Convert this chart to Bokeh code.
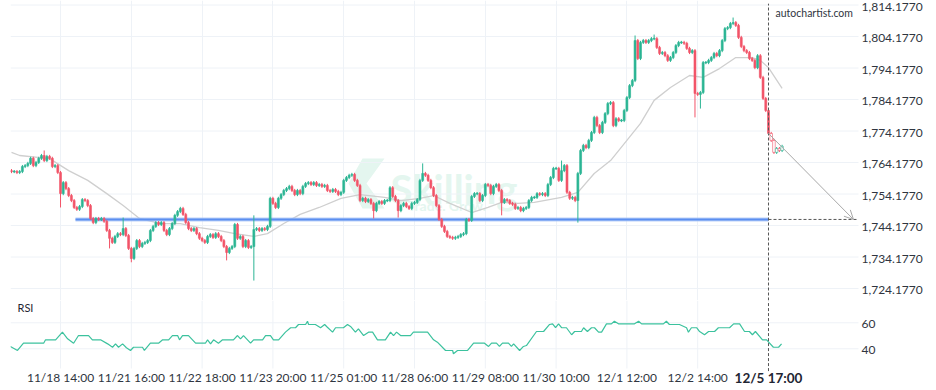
from bokeh.plotting import figure
from bokeh.layouts import column
from bokeh.models import (Range1d, FixedTicker, Label, Arrow, OpenHead,
                          ColumnDataSource, PolyAnnotation)
from bokeh.core.properties import value
from bokeh.embed import file_html
from bokeh.resources import INLINE

# ---------------- data ----------------
first_open = 1761.6
close = [
    1761.3, 1761.3, 1761.0, 1761.3, 1762.9, 1763.2, 1763.9, 1765.5, 1763.2, 1764.2,
    1765.5, 1766.4, 1764.8, 1766.1, 1765.5, 1762.9, 1763.2, 1761.0, 1754.3, 1757.8,
    1755.9, 1753.7, 1752.1, 1749.9, 1749.3, 1750.2, 1752.4, 1752.1, 1750.5, 1746.4,
    1745.1, 1746.4, 1746.1, 1746.4, 1745.5, 1742.6, 1740.1, 1738.8, 1740.7, 1741.6,
    1741.3, 1743.2, 1741.0, 1736.9, 1733.7, 1736.9, 1739.4, 1737.5, 1738.5, 1738.8,
    1739.4, 1742.6, 1743.9, 1745.1, 1744.5, 1745.1, 1742.6, 1741.3, 1743.2, 1744.8,
    1747.4, 1748.6, 1749.6, 1747.7, 1745.1, 1743.2, 1742.6, 1743.2, 1741.6, 1740.1,
    1739.4, 1738.8, 1740.7, 1741.3, 1740.4, 1741.6, 1740.7, 1739.4, 1737.5, 1735.6,
    1736.9, 1737.5, 1744.5, 1740.1, 1740.7, 1737.5, 1739.4, 1737.2, 1737.5, 1742.9,
    1743.2, 1742.6, 1743.2, 1742.9, 1743.9, 1752.8, 1751.2, 1749.9, 1752.8, 1754.0,
    1755.3, 1755.9, 1756.6, 1755.3, 1754.0, 1755.3, 1754.3, 1756.6, 1757.5, 1757.8,
    1757.2, 1757.8, 1756.9, 1757.2, 1756.6, 1756.9, 1755.3, 1755.0, 1755.6, 1755.0,
    1754.0, 1754.7, 1758.5, 1759.4, 1760.1, 1760.4, 1758.5, 1756.9, 1752.1, 1752.8,
    1751.8, 1752.4, 1751.2, 1748.9, 1751.2, 1751.8, 1751.2, 1752.1, 1752.1, 1756.2,
    1753.4, 1752.1, 1748.9, 1750.5, 1751.2, 1750.2, 1749.6, 1751.2, 1751.5, 1752.4,
    1758.5, 1760.7, 1760.1, 1758.5, 1756.2, 1753.7, 1750.5, 1746.1, 1743.9, 1742.3,
    1740.7, 1740.4, 1740.1, 1740.4, 1740.7, 1741.3, 1741.6, 1746.1, 1745.8, 1753.4,
    1754.3, 1754.3, 1752.1, 1753.7, 1757.2, 1756.9, 1754.3, 1756.6, 1757.2, 1755.3,
    1751.5, 1752.4, 1752.1, 1751.2, 1750.9, 1749.6, 1749.9, 1748.9, 1749.6, 1749.9,
    1752.1, 1753.1, 1753.1, 1754.3, 1754.0, 1754.3, 1753.7, 1757.2, 1759.4, 1762.3,
    1762.3, 1758.5, 1761.6, 1763.2, 1754.7, 1752.8, 1753.1, 1752.1, 1760.7, 1768.0,
    1769.6, 1768.9, 1771.2, 1773.7, 1778.5, 1775.9, 1773.7, 1776.9, 1779.7, 1782.9,
    1783.2, 1775.9, 1778.1, 1777.5, 1777.5, 1780.7, 1784.8, 1788.6, 1790.2, 1802.9,
    1797.2, 1802.3, 1802.9, 1802.3, 1802.9, 1803.5, 1803.5, 1800.7, 1798.8, 1799.1,
    1798.1, 1796.6, 1797.5, 1799.1, 1801.3, 1802.3, 1802.3, 1802.0, 1800.4, 1799.1,
    1799.7, 1786.1, 1785.8, 1786.4, 1795.9, 1795.9, 1796.6, 1797.5, 1798.8, 1798.1,
    1799.7, 1802.9, 1806.7, 1807.0, 1808.3, 1808.6, 1807.7, 1803.9, 1801.0, 1799.7,
    1799.1, 1797.2, 1796.6, 1794.3, 1798.1, 1791.2, 1784.5, 1780.7, 1773.4, 1771.2,
    1767.4, 1768.6, 1768.0, 1769.3,
]
# notable wick extremes (bar index -> price)
high_wicks = {12: 1768.0, 41: 1746.7, 89: 1747.4, 151: 1763.9, 202: 1764.8,
              229: 1804.5, 236: 1804.8, 265: 1810.2}
low_wicks = {18: 1749.9, 36: 1736.9, 44: 1732.5, 79: 1733.1, 89: 1726.7,
             133: 1746.4, 142: 1746.7, 180: 1747.4, 208: 1745.1, 251: 1778.5,
             253: 1781.3}
wick_pad = 0.5

ma_idx = [0, 3, 14, 21, 28, 35, 41, 47, 55, 62, 69, 76, 82, 89, 94, 100, 106, 113,
          121, 128, 137, 143, 150, 155, 161, 169, 175, 180, 186, 192, 202, 208, 214,
          220, 226, 231, 236, 242, 249, 254, 260, 266, 272, 275, 278, 283]
ma_val = [1767.4, 1766.4, 1765.4, 1761.6, 1758.5, 1754.3, 1750.5, 1746.4, 1744.8,
          1744.8, 1743.5, 1742.6, 1741.6, 1740.7, 1741.6, 1744.8, 1747.7, 1749.9,
          1752.8, 1754.0, 1753.1, 1752.1, 1752.8, 1753.7, 1751.2, 1748.3, 1749.9,
          1751.5, 1751.2, 1751.5, 1753.1, 1754.7, 1760.7, 1764.8, 1771.2, 1776.6,
          1783.9, 1788.0, 1791.8, 1791.2, 1794.0, 1797.5, 1797.5, 1796.6, 1794.3,
          1787.7]

rsi_idx = [-0.4, 2.2, 4.4, 11.8, 12.5, 16.2, 18.7, 20.6, 22.8, 24.6, 28.3, 29.7, 32.7,
           35.3, 37.1, 38.2, 39.3, 40.8, 42.2, 43.7, 44.8, 48.1, 48.8, 51.0, 54.0, 55.5,
           57.7, 59.1, 61.0, 61.7, 62.8, 65.0, 67.6, 71.2, 72.0, 73.1, 74.2, 76.0, 77.5,
           81.5, 83.0, 84.1, 85.2, 87.8, 88.9, 92.2, 93.3, 95.1, 96.2, 98.1, 100.6,
           102.5, 104.3, 105.4, 108.0, 108.7, 109.1, 111.6, 113.5, 115.0, 116.0, 117.9,
           119.0, 121.9, 123.4, 124.5, 126.3, 127.4, 129.3, 131.1, 132.6, 134.4, 137.3,
           139.2, 140.3, 141.4, 142.9, 146.5, 147.6, 152.8, 155.0, 156.4, 159.4, 162.0,
           162.3, 163.8, 167.5, 169.7, 173.7, 175.2, 176.3, 178.1, 179.2, 180.3, 182.5,
           183.6, 184.4, 186.6, 188.0, 189.1, 192.8, 195.4, 197.6, 198.7, 199.8, 200.9,
           202.0, 203.8, 205.7, 206.8, 209.3, 210.1, 211.5, 213.0, 214.1, 215.6, 216.7,
           218.5, 220.3, 221.4, 222.9, 228.8, 230.3, 231.4, 239.4, 240.5, 241.6, 245.3,
           247.9, 248.6, 249.7, 251.6, 252.7, 254.5, 256.0, 258.2, 259.6, 263.7, 265.2,
           267.4, 269.2, 271.0, 272.1, 273.2, 275.8, 277.3, 279.8, 281.7, 282.8]
rsi_val = [41.7, 38.7, 44.3, 44.3, 46.9, 46.9, 52.8, 47.7, 44.3, 50.2, 50.2, 46.9, 46.9,
           43.8, 41.2, 43.8, 41.2, 43.8, 40.8, 38.7, 41.2, 41.2, 38.7, 44.3, 44.3, 46.9,
           46.9, 50.2, 50.2, 46.9, 50.2, 50.2, 44.3, 44.3, 46.9, 43.8, 46.9, 44.3, 46.9,
           46.9, 50.2, 47.7, 50.2, 44.3, 46.9, 46.9, 50.2, 50.2, 46.9, 46.9, 52.8,
           56.2, 56.2, 58.7, 58.7, 61.2, 58.7, 58.7, 56.2, 58.7, 56.6, 52.8,
           56.2, 56.2, 58.7, 57.2, 52.8, 55.4, 50.2, 52.8, 52.8, 46.9, 46.9,
           52.8, 50.2, 52.8, 50.2, 50.2, 52.8, 52.8, 46.9, 45.1, 38.7, 38.7,
           36.2, 38.7, 38.7, 44.3, 44.3, 41.8, 44.3, 44.3, 41.8, 44.3, 44.3,
           41.8, 43.8, 38.7, 41.8, 42.5, 53.3, 53.3, 58.7, 59.2, 56.2, 59.2,
           56.2, 56.2, 50.8, 53.3, 53.3, 56.2, 53.3, 56.2, 56.2, 52.8, 52.8,
           59.2, 59.2, 61.2, 59.2, 59.2, 61.2, 59.2, 59.2, 61.2, 58.7, 58.7,
           56.2, 52.8, 56.2, 56.2, 53.3, 50.8, 53.3, 53.3, 56.2, 56.2, 59.2,
           59.2, 53.3, 53.3, 50.8, 53.3, 46.9, 46.9, 41.2, 41.2, 43.8]

support_level = 1746.1
support_start = 23.5
now_idx = 278
target_idx = 309.2
target_level = 1746.1

price_ticks = [1724.177, 1734.177, 1744.177, 1754.177, 1764.177, 1774.177,
               1784.177, 1794.177, 1804.177, 1814.177]
price_labels = [f"{v:,.4f}" for v in price_ticks]
rsi_ticks = [40, 60]
rsi_labels = ["40", "60"]
time_idx = [18, 44, 70, 96, 122, 148, 174, 200, 226, 252, 278]
time_labels = ["11/18 14:00", "11/21 16:00", "11/22 18:00", "11/23 20:00",
               "11/25 01:00", "11/28 06:00", "11/29 08:00", "11/30 10:00",
               "12/1 12:00", "12/2 14:00", "12/5 17:00"]

# ---------------- styling ----------------
UP = "#2bb594"
DOWN = "#f25468"
GRID = "#eef2f7"
TXT = "#2f3540"
FONT = "Lato"
X0, X_PLOT_END, X_CANVAS_END = -0.37, 311.05, 339.7   # bar-index extents

N = len(close)
idx = list(range(N))
opens = [first_open] + close[:-1]
tops, bots, highs, lows, fills, lines, widths = [], [], [], [], [], [], []
for i in idx:
    o, c = opens[i], close[i]
    hi = high_wicks.get(i, max(o, c) + wick_pad)
    lo = low_wicks.get(i, min(o, c) - wick_pad)
    t, b = max(o, c), min(o, c)
    if t - b < 0.3:
        m = (t + b) / 2
        t, b = m + 0.15, m - 0.15
    col = UP if c >= o else DOWN
    tops.append(t); bots.append(b); highs.append(hi); lows.append(lo)
    lines.append(col)
    if i > now_idx:
        fills.append("white"); widths.append(0.95)
    else:
        fills.append(col); widths.append(0.72)

src = ColumnDataSource(dict(x=idx, top=tops, bottom=bots, high=highs, low=lows,
                            fill=fills, line=lines, w=widths))

xr = Range1d(X0, X_CANVAS_END)

# ---------------- price panel ----------------
pA = figure(width=936, height=300, x_range=xr, y_range=Range1d(1720.37, 1815.61),
            output_backend="svg", toolbar_location=None, x_axis_location=None,
            y_axis_location=None, min_border_left=10, min_border_right=0,
            min_border_top=0, min_border_bottom=0)
pA.outline_line_color = None
pA.xgrid.ticker = FixedTicker(ticks=time_idx[:-1])
pA.xgrid.grid_line_color = GRID
pA.ygrid.visible = False
pA.segment(x0=[X0] * len(price_ticks), y0=price_ticks,
           x1=[X_PLOT_END] * len(price_ticks), y1=price_ticks,
           line_color=GRID, line_width=1)
pA.text(x=[X_PLOT_END] * len(price_ticks), y=price_ticks, text=price_labels,
        x_offset=3, y_offset=1.5, text_align="left", text_baseline="middle",
        text_font=value(FONT), text_font_size="12px", text_color=TXT)

# watermark
wm_col = "#e4f6ef"
pA.add_layout(PolyAnnotation(xs=[352, 374, 356, 374, 352, 338],
                             ys=[142, 142, 117, 92, 92, 117],
                             xs_units="screen", ys_units="screen",
                             fill_color=wm_col, fill_alpha=1.0, line_color=None,
                             level="underlay"))
pA.add_layout(Label(x=380, y=112, x_units="screen", y_units="screen", text="Skilling",
                    text_font=FONT, text_font_style="bold", text_font_size="40px",
                    text_color=wm_col, text_baseline="alphabetic", level="underlay"))
pA.add_layout(Label(x=397, y=95, x_units="screen", y_units="screen", text="Trade. Grow.",
                    text_font=FONT, text_font_style="bold", text_font_size="14px",
                    text_color=wm_col, text_baseline="alphabetic", level="underlay"))

# moving average
pA.line(ma_idx, ma_val, line_color="#cfcfcf", line_width=1.3)

# support line
pA.segment(x0=[support_start], y0=[support_level], x1=[now_idx], y1=[support_level],
           line_color="#a9c4f7", line_width=4, line_alpha=0.8)
pA.segment(x0=[support_start], y0=[support_level], x1=[now_idx], y1=[support_level],
           line_color="#5b8ef0", line_width=2)

# candles
pA.segment(x0="x", y0="low", x1="x", y1="high", line_color="line", line_width=1, source=src)
pA.vbar(x="x", width="w", top="top", bottom="bottom", fill_color="fill",
        line_color="line", line_width=0.6, source=src)

# forecast
pA.segment(x0=[now_idx], y0=[target_level], x1=[X_PLOT_END], y1=[target_level],
           line_color="#555555", line_dash="3 2", line_width=1)
pA.add_layout(Arrow(end=OpenHead(size=9, line_color="#a8a8a8", line_width=1),
                    x_start=now_idx, y_start=close[now_idx],
                    x_end=target_idx, y_end=target_level,
                    line_color="#a8a8a8", line_width=1))
pA.segment(x0=[now_idx], y0=[1720.37], x1=[now_idx], y1=[1814.6],
           line_color="#555555", line_dash="3 2", line_width=1)
pA.add_layout(Label(x=765, y=288, x_units="screen", y_units="screen",
                    text="autochartist.com", text_font=FONT, text_font_size="10.5px",
                    text_color=TXT, text_baseline="middle"))

# ---------------- RSI panel ----------------
rsi_lo, rsi_hi = 7.92, 77.15
grid_bottom = 24.85     # where the vertical guides stop above the time labels
label_y = 17.9
pB = figure(width=936, height=90, x_range=xr, y_range=Range1d(rsi_lo, rsi_hi),
            output_backend="svg", toolbar_location=None, x_axis_location=None,
            y_axis_location=None, min_border_left=10, min_border_right=0,
            min_border_top=0, min_border_bottom=0)
pB.outline_line_color = None
pB.grid.visible = False
pB.segment(x0=[X0] * 2, y0=rsi_ticks, x1=[X_PLOT_END] * 2, y1=rsi_ticks,
           line_color=GRID, line_width=1)
pB.segment(x0=time_idx[:-1], y0=[grid_bottom] * 10, x1=time_idx[:-1], y1=[rsi_hi] * 10,
           line_color=GRID, line_width=1)
pB.text(x=[X_PLOT_END] * 2, y=rsi_ticks, text=rsi_labels, x_offset=3, y_offset=1,
        text_align="left", text_baseline="middle", text_font=value(FONT),
        text_font_size="12px", text_color=TXT)
pB.text(x=time_idx[:-1], y=[label_y] * 10, text=time_labels[:-1], text_align="center",
        text_baseline="middle", text_font=value(FONT), text_font_size="12px",
        text_color=TXT)
pB.text(x=[time_idx[-1]], y=[label_y], text=[time_labels[-1]], text_align="center",
        text_baseline="middle", text_font=value(FONT), text_font_style="bold",
        text_font_size="13.5px", text_color="#1f2633")

pB.line(rsi_idx, rsi_val, line_color="#3cc29e", line_width=1.2)
pB.segment(x0=[now_idx], y0=[grid_bottom - 2], x1=[now_idx], y1=[rsi_hi],
           line_color="#555555", line_dash="3 2", line_width=1)
pB.add_layout(Label(x=7, y=83, x_units="screen", y_units="screen", text="RSI",
                    text_font=FONT, text_font_size="11px", text_color="#1f2633",
                    text_baseline="middle"))

layout = column(pA, pB, spacing=0)
open("out.html", "w").write(file_html(layout, INLINE))
